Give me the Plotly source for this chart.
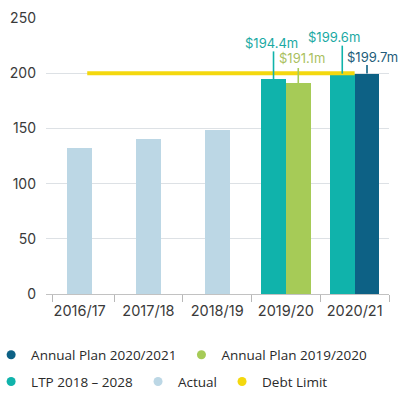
import plotly.graph_objects as go

# ---- data -------------------------------------------------------------
years = ["2016/17", "2017/18", "2018/19", "2019/20", "2020/21"]

actual_years = ["2016/17", "2017/18", "2018/19"]
actual_values = [132.5, 140.5, 148.5]

ltp_years = ["2019/20", "2020/21"]
ltp_values = [194.4, 199.6]

ap1920_years = ["2019/20"]
ap1920_values = [191.1]

ap2021_years = ["2020/21"]
ap2021_values = [199.7]

debt_limit = 200

y_ticks = [0, 50, 100, 150, 200, 250]

# ---- styling ----------------------------------------------------------
C_ACTUAL = "#bcd7e5"
C_LTP = "#10b3ab"
C_AP1920 = "#a6cb57"
C_AP2021 = "#0d6185"
C_DEBT = "#f4d80e"
C_LTP_TXT = "#1aa9a3"
C_AP1920_TXT = "#aabf5f"
C_AP2021_TXT = "#235c7a"

AXIS_FONT = dict(family="Inter, Lato, sans-serif", size=14, color="#3a3a3a")
XTICK_FONT = dict(family="Inter, Lato, sans-serif", size=14.5, color="#3a3a3a")
LEGEND_FONT = dict(family="Open Sans, Noto Sans, sans-serif", size=13.5, color="#2a2a2a")
LABEL_FONT_SIZE = 13

BAR_W = 0.36
pos = {y: i for i, y in enumerate(years)}

fig = go.Figure()

# Actual: single centred bars
fig.add_trace(go.Bar(
    x=[pos[y] for y in actual_years], y=actual_values, width=BAR_W,
    marker=dict(color=C_ACTUAL, line=dict(width=0)),
    name="Actual", legendgroup="actual", showlegend=False,
))
# LTP: left half of each paired group
fig.add_trace(go.Bar(
    x=[pos[y] for y in ltp_years], y=ltp_values, width=BAR_W, offset=-BAR_W,
    marker=dict(color=C_LTP, line=dict(width=0)),
    name="LTP 2018 – 2028", legendgroup="ltp", showlegend=False,
))
# Annual plans: right half of the pair
fig.add_trace(go.Bar(
    x=[pos[y] for y in ap1920_years], y=ap1920_values, width=BAR_W, offset=0,
    marker=dict(color=C_AP1920, line=dict(width=0)),
    name="Annual Plan 2019/2020", legendgroup="ap1920", showlegend=False,
))
fig.add_trace(go.Bar(
    x=[pos[y] for y in ap2021_years], y=ap2021_values, width=BAR_W, offset=0,
    marker=dict(color=C_AP2021, line=dict(width=0)),
    name="Annual Plan 2020/2021", legendgroup="ap2021", showlegend=False,
))

# Debt limit line across the years
fig.add_trace(go.Scatter(
    x=[pos[years[0]] + 0.11, pos[years[-1]]], y=[debt_limit, debt_limit],
    mode="lines", line=dict(color=C_DEBT, width=4),
    name="Debt Limit", legendgroup="debt", showlegend=False,
))

# Legend entries drawn as round markers (two rows = two legends)
legend_entries = [
    ("Annual Plan 2020/2021", C_AP2021, "ap2021", "legend"),
    ("Annual Plan 2019/2020", C_AP1920, "ap1920", "legend"),
    ("LTP 2018 – 2028", C_LTP, "ltp", "legend2"),
    ("Actual", C_ACTUAL, "actual", "legend2"),
    ("Debt Limit", C_DEBT, "debt", "legend2"),
]
for name, color, group, leg in legend_entries:
    fig.add_trace(go.Scatter(
        x=[None], y=[None], mode="markers",
        marker=dict(symbol="circle", size=9, color=color),
        name=name, legendgroup=group, legend=leg, showlegend=True,
    ))

# Value call-outs with short leader lines
callouts = [
    # (value, x position, colour, text colour, line px, text yshift, text xshift)
    (ltp_values[0], pos["2019/20"] - BAR_W / 2, C_LTP, C_LTP_TXT, 28, 36, -2),
    (ap1920_values[0], pos["2019/20"] + BAR_W / 2, C_AP1920, C_AP1920_TXT, 15, 25, 4),
    (ltp_values[1], pos["2020/21"] - BAR_W / 2, C_LTP, C_LTP_TXT, 28, 37, -8),
    (ap2021_values[0], pos["2020/21"] + BAR_W / 2, C_AP2021, C_AP2021_TXT, 8.5, 16.5, 5),
]
for val, xc, lc, tc, ln, ys, xs in callouts:
    fig.add_shape(
        type="line", xref="x", yref="y", ysizemode="pixel", yanchor=val,
        x0=xc, x1=xc, y0=0, y1=ln, line=dict(color=lc, width=1.6), layer="above",
    )
    fig.add_annotation(
        x=xc, y=val, xref="x", yref="y", text=f"${val:.1f}m", showarrow=False,
        yshift=ys, xshift=xs, font=dict(family=AXIS_FONT["family"], size=LABEL_FONT_SIZE, color=tc),
    )

fig.update_layout(
    width=403, height=394, autosize=False,
    margin=dict(l=46, r=14, t=18, b=100, pad=0, autoexpand=False),
    paper_bgcolor="white", plot_bgcolor="white",
    barmode="overlay", bargap=0,
    showlegend=True,
    legend=dict(
        orientation="h", x=-0.16, xanchor="left", y=-0.221, yanchor="middle",
        font=LEGEND_FONT, bgcolor="rgba(0,0,0,0)",
    ),
    legend2=dict(
        orientation="h", x=-0.16, xanchor="left", y=-0.318, yanchor="middle",
        font=LEGEND_FONT, bgcolor="rgba(0,0,0,0)",
    ),
)

fig.update_xaxes(
    range=[-0.49, 4.5], tickmode="array", tickvals=list(range(len(years))), ticktext=years,
    ticks="", showgrid=False, zeroline=False, showline=False, automargin=False,
    tickfont=XTICK_FONT, ticklabelstandoff=6,
    minor=dict(tickmode="array", tickvals=[-0.4, 0.5, 1.5, 2.5, 3.5, 4.5],
               ticks="outside", ticklen=7, tickcolor="#b8b8b8", tickwidth=1, showgrid=False),
)
fig.update_yaxes(
    range=[0, 250], tickmode="array", tickvals=y_ticks,
    ticks="", showgrid=True, gridcolor="#dde1e5", gridwidth=1,
    zeroline=True, zerolinecolor="#c2c2c2", zerolinewidth=1, automargin=False,
    tickfont=AXIS_FONT, ticklabelstandoff=9,
)

fig.write_html("out.html")
